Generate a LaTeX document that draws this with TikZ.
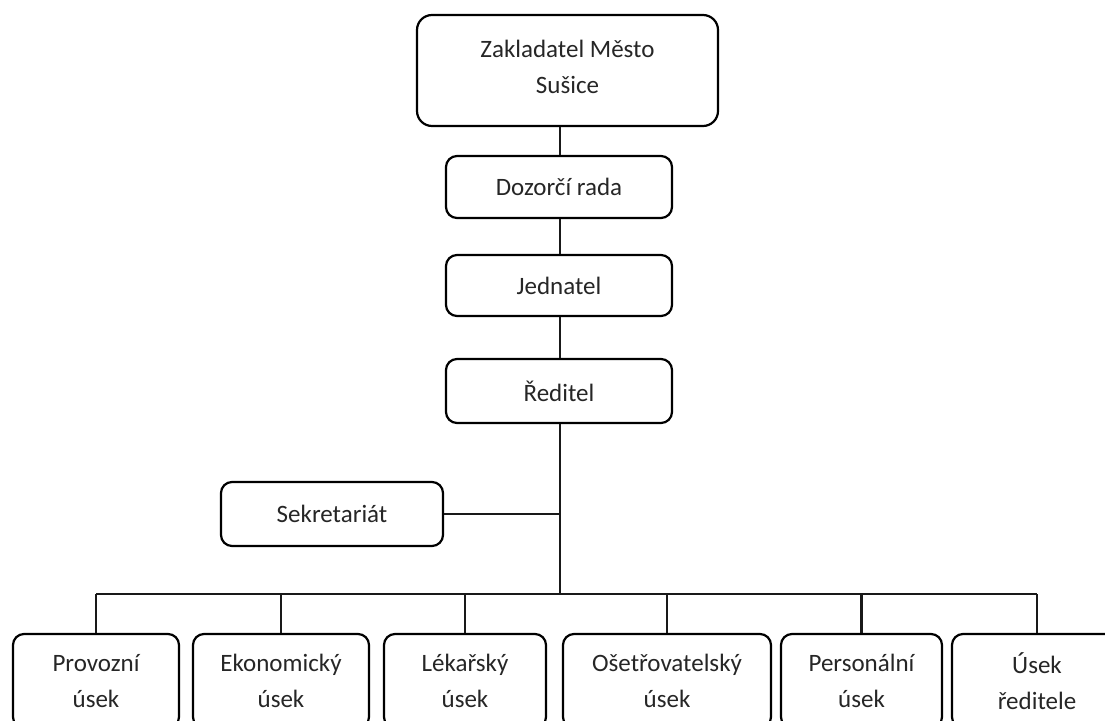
\documentclass[tikz,border=0pt]{standalone}
\usepackage{fontspec}
\setmainfont{Carlito}
\begin{document}
\begin{tikzpicture}[x=1pt,y=-1pt,
  orgbox/.style={draw=black, line width=2.2pt, rounded corners=11pt, inner sep=0pt,
    align=center, text=black!85, font=\fontsize{25}{36}\selectfont},
  link/.style={draw=black!90, line width=2.2pt}]
  % page frame and clipping of the boxes that run off the lower edge
  \clip (0,0) rectangle (1105,720);
  \fill[white] (0,0) rectangle (1105,720);

  % management chain
  \node[orgbox, rounded corners=15pt, minimum width=301pt, minimum height=111pt,
    label={[align=center, text=black!85, font=\fontsize{25}{36}\selectfont, yshift=4pt]center:Zakladatel Město\\Sušice}]
    (zak) at (567.5,70.5) {};
  \node[orgbox, minimum width=226pt, minimum height=62pt] (dozor) at (559,187) {Dozorčí rada};
  \node[orgbox, minimum width=226pt, minimum height=61pt] (jedn) at (559,285.5) {Jednatel};
  \node[orgbox, minimum width=226pt, minimum height=64pt] (red) at (559,391) {Ředitel};
  \node[orgbox, minimum width=222pt, minimum height=64pt] (sekr) at (332,514) {Sekretariát};

  % departments
  \node[orgbox, minimum width=166pt, minimum height=94pt] (prov) at (96,681) {Provozní\\úsek};
  \node[orgbox, minimum width=176pt, minimum height=94pt] (ekon) at (281,681) {Ekonomický\\úsek};
  \node[orgbox, minimum width=162pt, minimum height=94pt] (lek) at (465,681) {Lékařský\\úsek};
  \node[orgbox, minimum width=208pt, minimum height=94pt] (oset) at (667,681) {Ošetřovatelský\\úsek};
  \node[orgbox, minimum width=161pt, minimum height=94pt] (pers) at (861.5,681) {Personální\\úsek};
  \node[orgbox, minimum width=170pt, minimum height=94pt] (usek) at (1037,681) {Úsek\\ředitele};

  \coordinate (bus) at (560,594);

  % connectors
  \draw[link] (dozor.north -| 560,0) -- (560,0 |- zak.south);
  \draw[link] (jedn.north -| 560,0) -- (560,0 |- dozor.south);
  \draw[link] (red.north -| 560,0) -- (560,0 |- jedn.south);
  \draw[link] (red.south -| 560,0) -- (bus);
  \draw[link] (sekr.east) -- (sekr.east -| bus);
  \draw[link] (prov.north |- bus) -- (usek.north |- bus);
  \foreach \d in {prov,ekon,lek,oset,pers,usek}
    \draw[link] (\d.north) -- (\d.north |- bus);
\end{tikzpicture}
\end{document}
